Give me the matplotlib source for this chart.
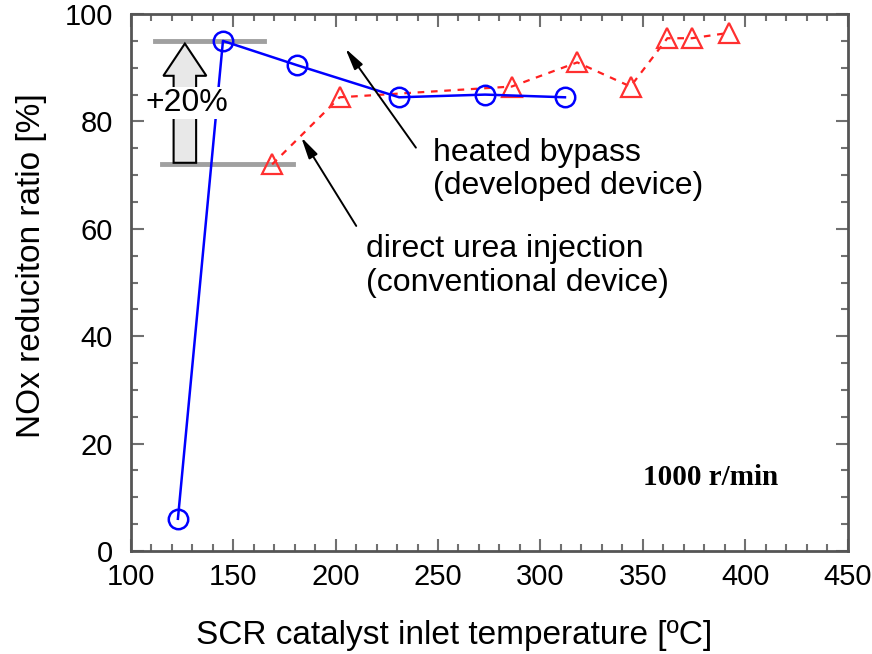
import matplotlib.pyplot as plt
from matplotlib.patches import FancyArrow
from matplotlib.ticker import MultipleLocator

plt.rcParams['font.family'] = ['Liberation Sans', 'DejaVu Sans']

# heated bypass (developed device)
bypass_temp = [123, 145, 181, 231, 273, 312]
bypass_nox = [6, 95, 90.5, 84.5, 85, 84.5]

# direct urea injection (conventional device)
direct_temp = [169, 202, 286, 318, 344, 362, 374, 392]
direct_nox = [72, 84.5, 86.5, 91, 86.5, 95.5, 95.5, 96.5]

fig = plt.figure(figsize=(8.72, 6.54), dpi=100)
ax = fig.add_axes([0.150, 0.1575, 0.822, 0.821])

ax.plot(direct_temp, direct_nox, color='#ff2020', lw=1.6, linestyle=(0, (3, 3)),
        marker='^', markersize=15, markerfacecolor='none', markeredgewidth=1.6,
        markeredgecolor='#ff3030', zorder=3)
ax.plot(bypass_temp, bypass_nox, color='#0000ff', lw=1.8,
        marker='o', markersize=14, markerfacecolor='none', markeredgewidth=1.8,
        zorder=4)

# +20% bracket
ax.plot([112, 165], [95, 95], color='#a0a0a0', lw=3.5, zorder=2)
ax.plot([115, 179], [72, 72], color='#a0a0a0', lw=3.5, zorder=2)
ax.add_patch(FancyArrow(126.4, 72.3, 0, 22.2, width=11, head_width=21,
                        head_length=6, length_includes_head=True,
                        facecolor='#e8e8e8', edgecolor='black', lw=1.5, zorder=3))
ax.text(127.3, 83.4, '+20%', fontsize=23, ha='center', va='center', zorder=5,
        bbox=dict(facecolor='white', edgecolor='none', pad=1))

arrow = dict(arrowstyle='-|>,head_length=1.3,head_width=0.3', color='black', lw=1.4)
ax.annotate('', xy=(204, 94), xytext=(240, 74.7), arrowprops=arrow, zorder=6)
ax.annotate('', xy=(182.5, 77.5), xytext=(210.8, 60.1), arrowprops=arrow, zorder=6)
ax.text(247.5, 71.1, 'heated bypass\n(developed device)', fontsize=23,
        ha='left', va='center', linespacing=1.15)
ax.text(214.7, 53.1, 'direct urea injection\n(conventional device)', fontsize=23,
        ha='left', va='center', linespacing=1.15)

ax.text(383, 13.6, '1000 r/min', fontsize=21, fontweight='bold',
        family='Liberation Serif', ha='center', va='center')

ax.set_xlim(100, 450)
ax.set_ylim(0, 100)
ax.xaxis.set_major_locator(MultipleLocator(50))
ax.xaxis.set_minor_locator(MultipleLocator(10))
ax.yaxis.set_major_locator(MultipleLocator(20))
ax.yaxis.set_minor_locator(MultipleLocator(5))
ax.tick_params(which='both', direction='in', top=True, right=True,
               color='#707070', width=1.5)
ax.tick_params(which='major', length=9, labelsize=21)
ax.tick_params(which='minor', length=5)
ax.tick_params(axis='x', which='major', pad=9)
ax.tick_params(axis='y', which='major', pad=13)
for side in ax.spines.values():
    side.set_color('#555555')
    side.set_linewidth(2)

ax.set_xlabel('SCR catalyst inlet temperature [ºC]', fontsize=24, va='center')
ax.xaxis.set_label_coords(0.451, -0.158)
ax.set_ylabel('NOx reduciton ratio [%]', fontsize=24, va='center')
ax.yaxis.set_label_coords(-0.139, 0.531)

fig.savefig('out.png', dpi=100)
